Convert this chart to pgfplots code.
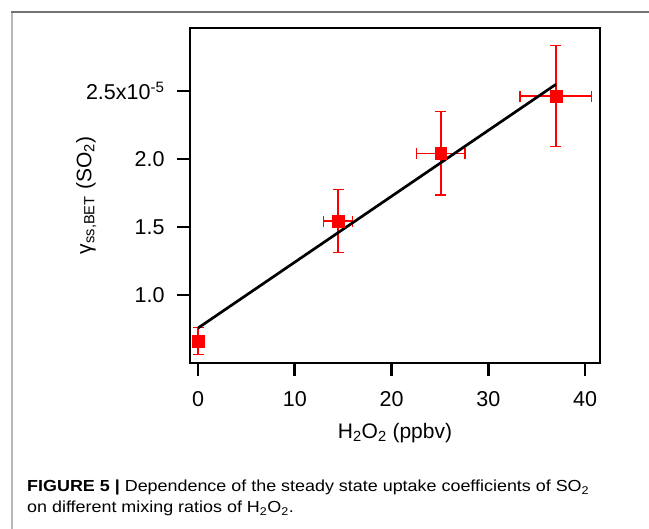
\documentclass[border=0pt]{standalone}
\usepackage{pgfplots}
\pgfplotsset{compat=1.18}
\usepackage{fontspec}
\setmainfont{Liberation Sans}
\newfontfamily\capfont[FakeStretch=1.12]{Liberation Sans}
\definecolor{ptred}{HTML}{FF0000}

\begin{document}
\begin{tikzpicture}
\path[use as bounding box] (0pt,0pt) rectangle (649pt,-529pt);
% figure frame
\draw[line width=2pt, color=black!28] (12pt,-12pt) -- (12pt,-529pt);
\draw[line width=2pt, color=black!55] (11pt,-12pt) -- (649pt,-12pt);

\begin{axis}[
    at={(190pt,-363pt)}, anchor=south west,
    scale only axis,
    width=410pt, height=335pt,
    xmin=-0.83, xmax=41.55,
    ymin=0.5, ymax=2.963,
    axis line style={line width=2.7pt},
    tick style={line width=2.7pt, black},
    tick align=outside,
    major tick length=13pt,
    tick pos=left,
    xtick={0,10,20,30,40},
    ytick={1.0,1.5,2.0,2.5},
    yticklabels={1.0,1.5,2.0,{2.5x10\textsuperscript{-5}}},
    /pgf/number format/assume math mode=true,
    ticklabel style={font=\fontsize{21.5}{24}\selectfont},
    yticklabel style={xshift=-9pt},
    xticklabel style={yshift=-12pt},
    xlabel={H\textsubscript{2}O\textsubscript{2} (ppbv)},
    ylabel={γ\textsubscript{ss,BET} (SO\textsubscript{2})},
    label style={font=\fontsize{21}{24}\selectfont},
    xlabel style={at={(axis description cs:0.5,-0.208)}, anchor=center},
    ylabel style={at={(axis description cs:-0.253,0.5)}, anchor=center},
    clip=false,
]
\addplot[only marks, mark=square*, mark size=5.8pt, color=ptred,
    error bars/.cd,
    x dir=both, x explicit, y dir=both, y explicit,
    error bar style={line width=1.4pt, ptred},
    error mark options={rotate=90, mark size=5.5pt, line width=1.4pt, ptred},
] coordinates {
    (0,0.662) +- (0,0.098)
    (14.47,1.544) +- (1.5,0.232)
    (25.1,2.042) +- (2.5,0.306)
    (37.0,2.463) +- (3.7,0.37)
};
\addplot[black, line width=2.7pt] coordinates {(0,0.757) (37,2.549)};
\end{axis}

\node[anchor=base west, align=left, inner sep=0pt,
      font=\capfont\fontsize{16}{21}\selectfont] at (27pt,-513pt)
  {{\bfseries FIGURE 5 |} Dependence of the steady state uptake coefficients of SO\textsubscript{2}\\
   on different mixing ratios of H\textsubscript{2}O\textsubscript{2}.};
\end{tikzpicture}
\end{document}
